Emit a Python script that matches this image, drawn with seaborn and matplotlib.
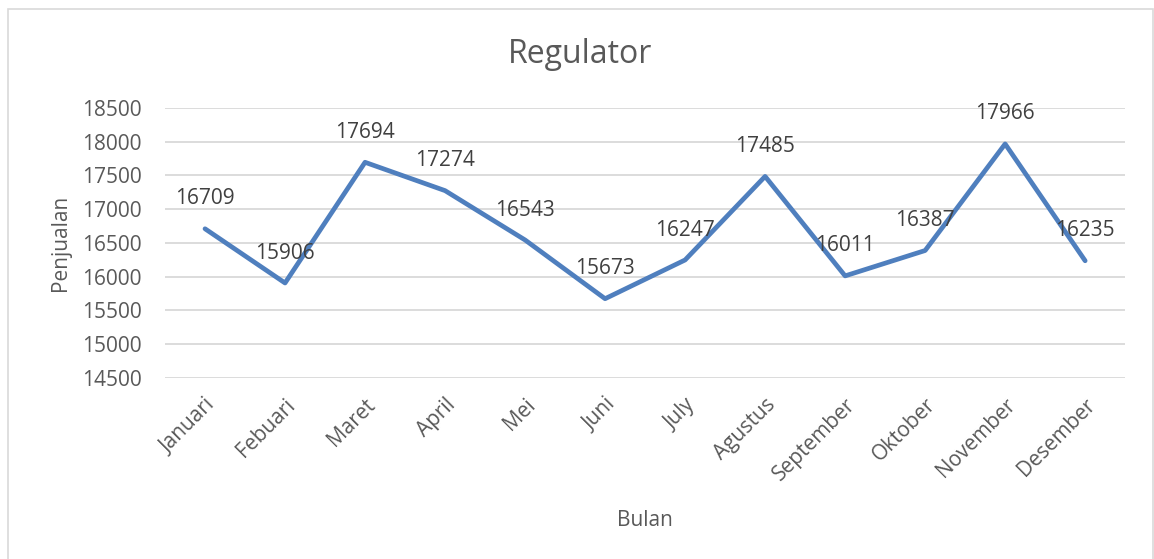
import pandas as pd
import seaborn as sns
import matplotlib.pyplot as plt

bulan = ['Januari', 'Febuari', 'Maret', 'April', 'Mei', 'Juni', 'July',
         'Agustus', 'September', 'Oktober', 'November', 'Desember']
penjualan = [16709, 15906, 17694, 17274, 16543, 15673, 16247,
             17485, 16011, 16387, 17966, 16235]
y_ticks = [14500, 15000, 15500, 16000, 16500, 17000, 17500, 18000, 18500]

df = pd.DataFrame({'Bulan': bulan, 'Penjualan': penjualan})

sns.set_style('white')
plt.rcParams['font.family'] = ['Open Sans', 'DejaVu Sans']
grey = '#595959'

fig = plt.figure(figsize=(11.54, 5.59), dpi=100)
ax = fig.add_axes([0.143, 0.324, 0.832, 0.483])

sns.lineplot(data=df, x='Bulan', y='Penjualan', color='#4F7FBE', linewidth=3.4, ax=ax)

# data labels above each point
for i, v in enumerate(penjualan):
    ax.annotate(str(v), (i, v), xytext=(0, 14), textcoords='offset points',
                ha='center', va='bottom', fontsize=15, color='#404040')

ax.set_xlim(-0.5, len(bulan) - 0.5)
ax.set_ylim(14500, 18500)
ax.set_yticks(y_ticks)
ax.set_yticklabels([str(t) for t in y_ticks], fontsize=15, color=grey)
ax.set_xticks(range(len(bulan)))
ax.set_xticklabels(bulan, rotation=45, ha='right', va='top', rotation_mode='anchor',
                   fontsize=15, color=grey)
ax.tick_params(axis='both', length=0)
ax.tick_params(axis='y', pad=17)
ax.tick_params(axis='x', pad=12)
ax.grid(axis='y', color='#D9D9D9', linewidth=1.3)
ax.set_axisbelow(True)
for s in ax.spines.values():
    s.set_visible(False)

fig.suptitle('Regulator', x=0.503, y=0.902, va='center', fontsize=23, color=grey)
ax.set_xlabel('Bulan', fontsize=15, color=grey, labelpad=18)
ax.set_ylabel('Penjualan', fontsize=15, color=grey, labelpad=8)

# chart border
fig.patches.append(plt.Rectangle((0.007, -0.01), 0.992, 0.994, transform=fig.transFigure,
                                 fill=False, edgecolor='#D9D9D9', linewidth=1.2))

fig.savefig('out.png', dpi=100)
